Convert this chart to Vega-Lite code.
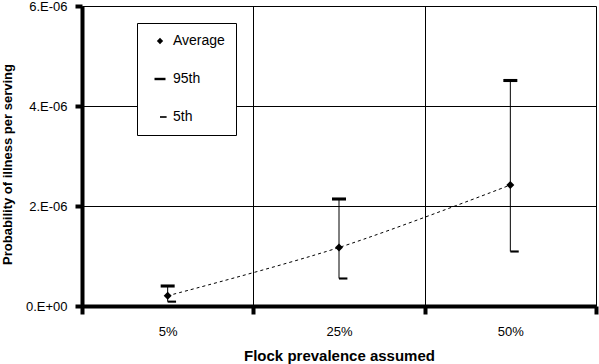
{
  "$schema": "https://vega.github.io/schema/vega-lite/v6.json",
  "width": 514,
  "height": 300,
  "autosize": {"type": "none"},
  "padding": {"left": 82, "top": 6, "right": 3, "bottom": 58},
  "background": "white",
  "data": {
    "values": [
      {"prevalence": "5%", "pos": 0.5, "avg": 2.05e-7, "p95": 4.0e-7, "p5": 8.7e-8},
      {"prevalence": "25%", "pos": 1.5, "avg": 1.17e-6, "p95": 2.14e-6, "p5": 5.5e-7},
      {"prevalence": "50%", "pos": 2.5, "avg": 2.42e-6, "p95": 4.51e-6, "p5": 1.09e-6}
    ]
  },
  "config": {
    "view": {"stroke": null},
    "font": "Liberation Sans",
    "axis": {
      "domainColor": "black",
      "domainWidth": 4,
      "tickColor": "black",
      "tickWidth": 4,
      "gridColor": "black",
      "gridWidth": 1,
      "gridOpacity": 1,
      "labelColor": "black",
      "labelFont": "Liberation Sans",
      "labelFontSize": 13,
      "titleColor": "black",
      "titleFont": "Liberation Sans",
      "titleFontWeight": "bold"
    }
  },
  "resolve": {"axis": {"x": "independent"}},
  "layer": [
    {
      "mark": {"type": "rule", "color": "black", "strokeWidth": 1},
      "encoding": {
        "x": {
          "field": "pos", "type": "quantitative",
          "scale": {"domain": [0, 3], "nice": false, "zero": false},
          "axis": {"orient": "bottom", "values": [0, 1, 2, 3], "labels": false, "grid": true, "ticks": true, "tickSize": 8, "tickWidth": 4, "tickColor": "black", "domain": true, "domainWidth": 4, "domainColor": "black", "title": null}
        },
        "y": {
          "field": "p5", "type": "quantitative",
          "scale": {"domain": [0, 0.000006], "nice": false},
          "title": "Probability of illness per serving",
          "axis": {
            "values": [0, 0.000002, 0.000004, 0.000006],
            "labelExpr": "datum.value == 0 ? '0.E+00' : datum.value < 0.000003 ? '2.E-06' : datum.value < 0.000005 ? '4.E-06' : '6.E-06'",
            "grid": true,
            "tickSize": 7,
            "tickWidth": 4,
            "tickColor": "black",
            "domainWidth": 4,
            "domainColor": "black",
            "labelPadding": 8,
            "titleFontSize": 13,
            "titlePadding": 11,
            "titleY": 158
          }
        },
        "y2": {"field": "p95"}
      }
    },
    {
      "mark": {"type": "line", "color": "black", "strokeWidth": 1, "strokeDash": [3, 3], "interpolate": "catmull-rom"},
      "encoding": {
        "x": {
          "field": "pos", "type": "quantitative",
          "axis": {"orient": "bottom", "values": [0.5, 1.5, 2.5], "labelExpr": "datum.value < 1 ? '5%' : datum.value < 2 ? '25%' : '50%'", "grid": false, "ticks": false, "domain": false, "labelPadding": 19, "title": "Flock prevalence assumed", "titleFontSize": 15, "titlePadding": 10}
        },
        "y": {"field": "avg", "type": "quantitative", "title": "Probability of illness per serving"}
      }
    },
    {
      "transform": [{"fold": ["avg", "p95", "p5"], "as": ["stat", "value"]}],
      "mark": {"type": "point", "filled": true, "color": "black", "opacity": 1, "size": 196, "strokeWidth": 0},
      "encoding": {
        "x": {"field": "pos", "type": "quantitative", "axis": null},
        "y": {"field": "value", "type": "quantitative", "title": "Probability of illness per serving"},
        "shape": {
          "field": "stat", "type": "nominal",
          "scale": {
            "domain": ["avg", "p95", "p5"],
            "range": [
              "M0,-0.57L0.57,0L0,0.57L-0.57,0Z",
              "M-1,-0.22H1V0.22H-1Z",
              "M0,-0.15H1.2V0.15H0Z"
            ]
          },
          "legend": {
            "orient": "none",
            "legendX": 55,
            "legendY": 17,
            "title": null,
            "padding": 11,
            "symbolOffset": 5,
            "symbolSize": 121,
            "symbolFillColor": "black",
            "symbolStrokeColor": "black",
            "symbolStrokeWidth": 0,
            "labelOffset": 6,
            "labelFontSize": 14,
            "labelColor": "black",
            "labelFont": "Liberation Sans",
            "labelExpr": "datum.label == 'avg' ? 'Average' : datum.label == 'p95' ? '95th' : '5th'",
            "rowPadding": 24,
            "fillColor": "white",
            "strokeColor": "black"
          }
        }
      }
    }
  ]
}
